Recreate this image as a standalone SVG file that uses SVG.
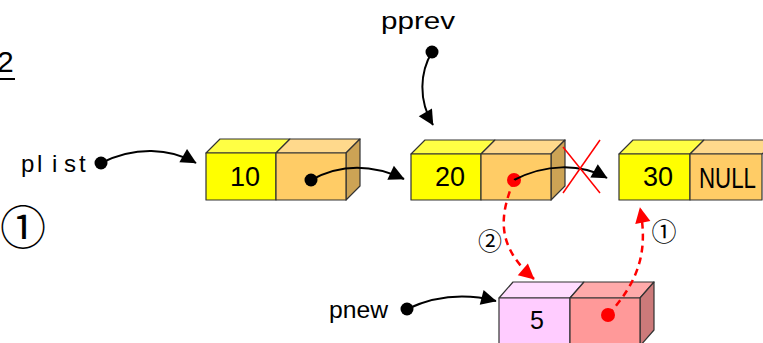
<svg xmlns="http://www.w3.org/2000/svg" width="763" height="343" viewBox="0 0 763 343">
<style>
.t{font-family:"Liberation Sans","DejaVu Sans",sans-serif;fill:#000}
.cj{font-family:"Noto Sans CJK JP","DejaVu Sans",sans-serif;fill:#000}
.lbl{font-size:24px}
.num{font-size:27px}
.bx{stroke:#333;stroke-width:1.2;stroke-linejoin:round}
.y{fill:#FFFF00}.yt{fill:#FFFF44}
.o{fill:#FFCC66}.ot{fill:#FFD98C}.os{fill:#CCA355}
.p{fill:#FFCCFF}.pt{fill:#FFDDFF}
.r{fill:#FF9999}.rt{fill:#FFAAAA}.rs{fill:#CC7A7A}
.c{fill:none;stroke:#000;stroke-width:2}
.rd{fill:none;stroke:#FF0000;stroke-width:2.5;stroke-dasharray:7,5}
</style>
<defs>
<marker id="ab" viewBox="0 0 10 10" refX="9" refY="5" markerWidth="7" markerHeight="7" markerUnits="userSpaceOnUse" orient="auto" overflow="visible">
<path d="M0,0 L10,5 L0,10 z" fill="#000" transform="scale(2.2) translate(-5.5,-2.7)"/>
</marker>
<marker id="ar" viewBox="0 0 10 10" refX="9" refY="5" markerWidth="7" markerHeight="7" markerUnits="userSpaceOnUse" orient="auto" overflow="visible">
<path d="M0,0 L10,5 L0,10 z" fill="#FF0000" transform="scale(2.2) translate(-5.5,-2.7)"/>
</marker>
</defs>

<g id="title">
<text class="t" x="-3" y="72" font-size="30">2</text>
<line x1="0" y1="79" x2="15" y2="79" stroke="#000" stroke-width="2"/>
<text class="cj" x="0" y="244" font-size="46">①</text>
</g>

<g id="labels">
<text class="t lbl" y="172"><tspan x="21">p</tspan><tspan x="37">l</tspan><tspan x="52">i</tspan><tspan x="64">s</tspan><tspan x="79">t</tspan></text>
<text class="t lbl" x="381" y="29" textLength="74" lengthAdjust="spacingAndGlyphs">pprev</text>
<text class="t lbl" x="329" y="318" textLength="59" lengthAdjust="spacingAndGlyphs">pnew</text>
<text class="cj" x="490" y="250" font-size="24" text-anchor="middle">②</text>
<text class="cj" x="664" y="241" font-size="25" text-anchor="middle">①</text>
</g>

<g id="node10">
<polygon class="bx yt" points="206,153 220,139 290,139 276,153"/>
<polygon class="bx ot" points="276,153 290,139 360,139 346,153"/>
<polygon class="bx os" points="346,153 360,139 360,186 346,200"/>
<rect class="bx y" x="206" y="153" width="70" height="47"/>
<rect class="bx o" x="276" y="153" width="70" height="47"/>
<text class="t num" x="245" y="186" text-anchor="middle">10</text>
<circle cx="311" cy="180" r="6.5" fill="#000"/>
</g>

<g id="node20">
<polygon class="bx yt" points="411,154 425,140 495,140 481,154"/>
<polygon class="bx ot" points="481,154 495,140 565,140 551,154"/>
<polygon class="bx os" points="551,154 565,140 565,186 551,200"/>
<rect class="bx y" x="411" y="154" width="70" height="46"/>
<rect class="bx o" x="481" y="154" width="70" height="46"/>
<text class="t num" x="450" y="186" text-anchor="middle">20</text>
<circle cx="514" cy="180" r="7" fill="#FF0000"/>
</g>

<g id="node30">
<polygon class="bx yt" points="619,154 633,140 704,140 690,154"/>
<polygon class="bx ot" points="690,154 704,140 776,140 762,154"/>
<rect class="bx y" x="619" y="154" width="71" height="46"/>
<rect class="bx o" x="690" y="154" width="72" height="46"/>
<text class="t num" x="658" y="186" text-anchor="middle">30</text>
<text class="t" x="699" y="188" font-size="29" textLength="57" lengthAdjust="spacingAndGlyphs">NULL</text>
</g>

<g id="node5">
<polygon class="bx pt" points="499,298 513,282 584,282 570,298"/>
<polygon class="bx rt" points="570,298 584,282 654,282 640,298"/>
<polygon class="bx rs" points="640,298 654,282 654,330 640,346"/>
<rect class="bx p" x="499" y="298" width="71" height="50"/>
<rect class="bx r" x="570" y="298" width="70" height="50"/>
<text class="t" x="537" y="329" font-size="25" text-anchor="middle">5</text>
<circle cx="608" cy="315" r="7" fill="#FF0000"/>
</g>

<g id="connectors">
<circle cx="101" cy="163" r="6.5" fill="#000"/>
<path class="c" d="M101,163 C135,146 170,148 196,163" marker-end="url(#ab)"/>
<path class="c" d="M311,180 C340,164 372,164 404,179" marker-end="url(#ab)"/>
<circle cx="432" cy="52" r="6.5" fill="#000"/>
<path class="c" d="M432,52 C420,72 418,100 433,125" marker-end="url(#ab)"/>
<path class="c" d="M514,180 C545,164 580,163 607,178" marker-end="url(#ab)"/>
<line x1="563" y1="147" x2="600" y2="193" stroke="#FF0000" stroke-width="1.5"/>
<line x1="600" y1="140" x2="563" y2="193" stroke="#FF0000" stroke-width="1.5"/>
<circle cx="407" cy="309" r="6.5" fill="#000"/>
<path class="c" d="M407,309 C435,296 465,293 496,301" marker-end="url(#ab)"/>
<path class="rd" d="M514,180 C500,215 495,245 534,279" marker-end="url(#ar)"/>
<path class="rd" d="M608,315 C640,280 648,250 640,208" marker-end="url(#ar)"/>
</g>
</svg>
